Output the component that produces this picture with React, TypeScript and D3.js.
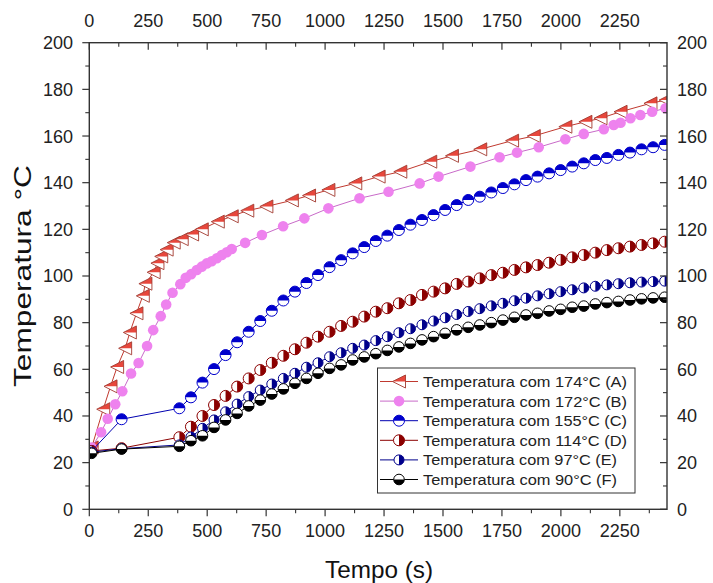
import React from "react";
import * as d3 from "d3";

// ---------- data ----------
const timesA = [10, 59, 90, 118, 152, 172, 200, 227, 238, 273, 289, 305, 328, 358, 392, 436, 477, 545, 604, 670, 751, 859, 932, 1014, 1128, 1227, 1319, 1446, 1538, 1658, 1793, 1885, 2019, 2104, 2168, 2253, 2380, 2444];
const valuesA = [26.5, 42.9, 52.7, 61.0, 69.0, 75.8, 84.0, 91.5, 96.7, 101.6, 105.5, 108.4, 111.3, 114.3, 115.8, 117.8, 120.0, 123.3, 125.6, 128.0, 129.8, 132.4, 134.5, 136.9, 139.7, 142.6, 144.7, 149.0, 151.5, 154.3, 158.0, 160.0, 164.0, 166.1, 167.6, 170.4, 174.0, 175.4];

const timesB = [10, 50, 78, 110, 140, 177, 209, 245, 271, 303, 326, 353, 386, 409, 432, 456, 477, 498, 519, 541, 562, 583, 604, 661, 732, 822, 912, 1014, 1146, 1269, 1401, 1481, 1616, 1740, 1814, 1906, 2019, 2097, 2182, 2224, 2253, 2295, 2337, 2387, 2444];
const valuesB = [26.5, 33.0, 38.8, 45.0, 50.6, 58.2, 62.7, 70.0, 76.8, 82.8, 87.8, 92.8, 96.5, 99.2, 100.8, 102.6, 104.0, 105.4, 106.3, 107.6, 109.0, 110.2, 111.6, 114.2, 117.6, 121.3, 124.7, 129.0, 133.3, 136.1, 139.7, 142.6, 146.9, 150.9, 152.9, 155.2, 158.6, 160.9, 162.9, 164.7, 165.7, 167.6, 169.0, 170.4, 171.9];

const timesCF = [10, 137, 382, 431, 480, 529, 578, 627, 676, 725, 774, 823, 872, 921, 970, 1019, 1068, 1117, 1166, 1215, 1264, 1313, 1362, 1411, 1460, 1509, 1558, 1607, 1656, 1705, 1754, 1803, 1852, 1901, 1950, 1999, 2048, 2097, 2146, 2195, 2244, 2293, 2342, 2391, 2440];
const valuesC = [25, 38.6, 43.3, 48.0, 54.3, 60.1, 66.1, 71.6, 76.1, 80.7, 85.1, 89.5, 93.3, 97.0, 100.4, 103.8, 106.8, 109.7, 112.4, 115.0, 117.3, 119.7, 122.0, 124.0, 126.1, 128.3, 130.4, 132.6, 134.0, 135.8, 137.7, 139.3, 141.1, 142.6, 144.0, 145.4, 146.9, 148.3, 149.7, 150.6, 151.9, 152.9, 154.3, 155.2, 156.2];
const valuesD = [25, 26.2, 30.9, 35.4, 40.0, 44.7, 48.6, 52.6, 56.1, 59.7, 62.8, 65.8, 68.6, 71.4, 74.0, 76.1, 78.6, 80.4, 82.6, 84.7, 86.2, 88.3, 89.7, 91.9, 93.3, 94.7, 96.6, 97.6, 99.0, 100.4, 101.4, 102.6, 103.7, 104.7, 105.7, 106.9, 108.0, 109.0, 110.0, 111.1, 111.9, 112.6, 113.3, 114.0, 114.7];
const valuesE = [24.5, 26.0, 27.6, 31.0, 34.7, 38.3, 41.8, 45.1, 48.3, 51.1, 53.7, 56.1, 58.3, 60.9, 62.8, 65.4, 67.1, 69.0, 70.4, 72.3, 74.0, 75.7, 77.4, 79.1, 80.7, 82.1, 83.5, 84.8, 86.0, 87.2, 88.3, 89.4, 90.5, 91.5, 92.4, 93.3, 94.1, 94.9, 95.6, 96.2, 96.7, 97.1, 97.4, 97.6, 97.8];
const valuesF = [24, 25.8, 27.0, 29.4, 31.5, 35.1, 38.3, 41.1, 44.3, 46.8, 49.4, 51.6, 54.0, 56.1, 58.3, 60.4, 61.9, 64.0, 65.3, 66.7, 68.1, 69.6, 71.1, 72.6, 74.0, 75.4, 76.9, 78.0, 79.0, 80.0, 81.1, 82.3, 83.3, 84.0, 85.0, 85.7, 86.6, 87.1, 88.0, 88.6, 89.1, 89.7, 90.2, 90.6, 90.9];

const seriesLabels = [
  "Temperatura com 174°C (A)",
  "Temperatura com 172°C (B)",
  "Temperatura com 155°C (C)",
  "Temperatura com 114°C (D)",
  "Temperatura com 97°C (E)",
  "Temperatura com 90°C (F)",
];
const xTicks = [0, 250, 500, 750, 1000, 1250, 1500, 1750, 2000, 2250];
const yTicks = [0, 20, 40, 60, 80, 100, 120, 140, 160, 180, 200];

// ---------- layout ----------
const W = 713, H = 583;
const L = 89.3, R = 667, T = 42.7, B = 509.3;
const FONT = "'Liberation Sans', Arial, sans-serif";

const x = d3.scaleLinear().domain([0, 2450]).range([L, R]);
const y = d3.scaleLinear().domain([0, 200]).range([B, T]);

type Kind = "tri" | "full" | "top" | "right" | "bottom";
interface S { times: number[]; values: number[]; color: string; line: string; stroke: string; kind: Kind; r: number; }

const series: S[] = [
  { times: timesA, values: valuesA, color: "#e8473c", line: "#c0392f", stroke: "#a33a30", kind: "tri", r: 6.5 },
  { times: timesB, values: valuesB, color: "#ee82ee", line: "#c86ac8", stroke: "#ee82ee", kind: "full", r: 5.3 },
  { times: timesCF, values: valuesC, color: "#0000cc", line: "#0000b0", stroke: "#0000cc", kind: "top", r: 5.5 },
  { times: timesCF, values: valuesD, color: "#8b0000", line: "#8b0000", stroke: "#8b0000", kind: "right", r: 5.5 },
  { times: timesCF, values: valuesE, color: "#00008b", line: "#00008b", stroke: "#00008b", kind: "right", r: 5 },
  { times: timesCF, values: valuesF, color: "#000000", line: "#000000", stroke: "#000000", kind: "bottom", r: 5.3 },
];

function Marker({ s, cx, cy }: { s: S; cx: number; cy: number }) {
  const r = s.r;
  if (s.kind === "tri") {
    return (
      <g transform={`translate(${cx},${cy})`}>
        <polygon points={`${-r},0 ${r},${-r} ${r},${r}`} fill="#fff" />
        <polygon points={`${-r},0 ${r},${-r} ${r},0`} fill={s.color} />
        <polygon points={`${-r},0 ${r},${-r} ${r},${r}`} fill="none" stroke={s.stroke} strokeWidth={0.9} />
      </g>
    );
  }
  if (s.kind === "full") {
    return <circle cx={cx} cy={cy} r={r} fill={s.color} />;
  }
  let d = "";
  if (s.kind === "top") d = `M${-r},0 A${r},${r} 0 0 1 ${r},0 Z`;
  if (s.kind === "bottom") d = `M${-r},0 A${r},${r} 0 0 0 ${r},0 Z`;
  if (s.kind === "right") d = `M0,${-r} A${r},${r} 0 0 1 0,${r} Z`;
  return (
    <g transform={`translate(${cx},${cy})`}>
      <circle r={r} fill="#fff" />
      <path d={d} fill={s.color} />
      <circle r={r} fill="none" stroke={s.stroke} strokeWidth={1} />
    </g>
  );
}

export default function App() {
  const line = (s: S) =>
    d3.line<number>().x((_, i) => x(s.times[i])).y((v) => y(v))(s.values) || "";

  const xMinor = d3.range(125, 2450, 250);
  const yMinor = d3.range(10, 200, 20);

  const legX = 377.5, legY = 368, legW = 257.5, legH = 125;
  const rowY = (i: number) => 381.5 + i * 19.6;

  return (
    <svg width={W} height={H} style={{ position: "absolute", left: 0, top: 0, background: "#fff" }} fontFamily={FONT}>
      <defs>
        <clipPath id="plot"><rect x={L} y={T} width={R - L} height={B - T} /></clipPath>
      </defs>
      <rect width={W} height={H} fill="#fff" />
      <g clipPath="url(#plot)">
        {series.map((s, k) => (
          <g key={k}>
            <path d={line(s)} fill="none" stroke={s.line} strokeWidth={1} />
            {s.values.map((v, i) => <Marker key={i} s={s} cx={x(s.times[i])} cy={y(v)} />)}
          </g>
        ))}
      </g>
      {/* frame */}
      <rect x={L} y={T} width={R - L} height={B - T} fill="none" stroke="#333" strokeWidth={1.4} />
      {xTicks.map((t) => (
        <g key={"bx" + t}>
          <line x1={x(t)} x2={x(t)} y1={B} y2={B + 7} stroke="#333" strokeWidth={1.2} />
          <text x={x(t)} y={537} textAnchor="middle" fontSize={18} fill="#222">{t}</text>
          <line x1={x(t)} x2={x(t)} y1={T} y2={T + 7} stroke="#333" strokeWidth={1.2} />
          <text x={x(t)} y={27} textAnchor="middle" fontSize={18} fill="#222">{t}</text>
        </g>
      ))}
      {xMinor.map((t) => (
        <g key={"mx" + t}>
          <line x1={x(t)} x2={x(t)} y1={B} y2={B + 4} stroke="#333" strokeWidth={1.1} />
          <line x1={x(t)} x2={x(t)} y1={T} y2={T + 4} stroke="#333" strokeWidth={1.1} />
        </g>
      ))}
      {yTicks.map((v) => (
        <g key={"y" + v}>
          <line x1={L - 7} x2={L} y1={y(v)} y2={y(v)} stroke="#333" strokeWidth={1.2} />
          <text x={73} y={y(v)} dy="0.36em" textAnchor="end" fontSize={18} fill="#222">{v}</text>
          <line x1={R - 7} x2={R} y1={y(v)} y2={y(v)} stroke="#333" strokeWidth={1.2} />
          <text x={677} y={y(v)} dy="0.36em" textAnchor="start" fontSize={18} fill="#222">{v}</text>
        </g>
      ))}
      {yMinor.map((v) => (
        <g key={"my" + v}>
          <line x1={L - 4} x2={L} y1={y(v)} y2={y(v)} stroke="#333" strokeWidth={1.1} />
          <line x1={R - 4} x2={R} y1={y(v)} y2={y(v)} stroke="#333" strokeWidth={1.1} />
        </g>
      ))}
      {/* titles */}
      <text x={379} y={578} textAnchor="middle" fontSize={24} fill="#111" textLength={108} lengthAdjust="spacingAndGlyphs">Tempo (s)</text>
      <text transform={`translate(31,${(T + B) / 2}) rotate(-90)`} textAnchor="middle" fontSize={23} fill="#111" textLength={222} lengthAdjust="spacingAndGlyphs">Temperatura °C</text>
      {/* legend */}
      <rect x={legX} y={legY} width={legW} height={legH} fill="#fff" stroke="#333" strokeWidth={1} />
      {series.map((s, i) => (
        <g key={"lg" + i}>
          <line x1={380} x2={418} y1={rowY(i)} y2={rowY(i)} stroke={s.line} strokeWidth={1} />
          <Marker s={s} cx={399} cy={rowY(i)} />
          <text x={423} y={rowY(i)} dy="0.36em" fontSize={15.5} fill="#222" textLength={i < 4 ? 204 : 194} lengthAdjust="spacingAndGlyphs">{seriesLabels[i]}</text>
        </g>
      ))}
    </svg>
  );
}
